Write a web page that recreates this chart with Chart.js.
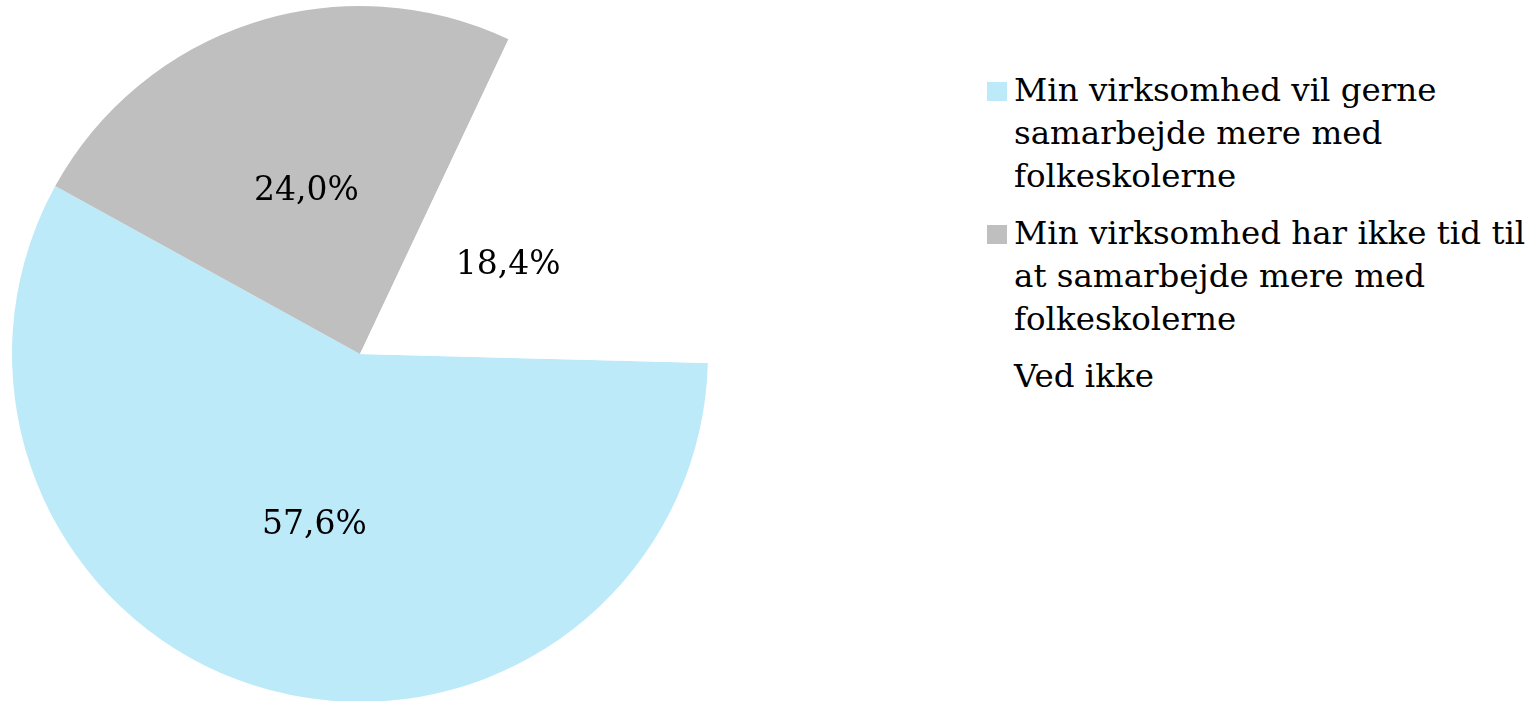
<!DOCTYPE html>
<html>
<head>
<meta charset="utf-8">
<script src="https://cdn.jsdelivr.net/npm/chart.js@4/dist/chart.umd.min.js"></script>
<style>
    html, body { margin: 0; padding: 0; background: #fff; overflow: hidden; }
    #wrap { position: relative; width: 1539px; height: 701px; }
    #pieBox { position: absolute; left: 0; top: 0; width: 720px; height: 702px; }
    #legend { position: absolute; left: 987px; top: 69px; font-family: "DejaVu Serif", serif; color: #000; }
    .item { display: flex; align-items: flex-start; margin-bottom: 14px; }
    .box { width: 20px; height: 19px; margin-top: 13px; margin-right: 7px; flex: none; }
    .txt { font-size: 32.5px; line-height: 43px; white-space: nowrap; }
</style>
</head>
<body>
<div id="wrap">
    <div id="pieBox"><canvas id="pie"></canvas></div>
    <div id="legend"></div>
</div>
<script>
const categories = [
    ['Min virksomhed vil gerne', 'samarbejde mere med', 'folkeskolerne'],
    ['Min virksomhed har ikke tid til', 'at samarbejde mere med', 'folkeskolerne'],
    ['Ved ikke']
];
const shares = [57.6, 24.0, 18.4];
const colors = ['#bdeaf9', '#bfbfbf', '#ffffff'];

const LABEL_FONT = '33px "DejaVu Serif"';

function fmtPct(v) {
    return v.toFixed(1).replace('.', ',') + '%';
}

// percentage labels in the middle of each slice
const sliceLabels = {
    id: 'sliceLabels',
    afterDatasetsDraw(chart) {
        const ctx = chart.ctx;
        const meta = chart.getDatasetMeta(0);
        ctx.save();
        ctx.font = LABEL_FONT;
        ctx.fillStyle = '#000';
        ctx.textAlign = 'center';
        ctx.textBaseline = 'middle';
        meta.data.forEach((arc, i) => {
            const p = arc.tooltipPosition();
            ctx.fillText(fmtPct(shares[i]), p.x, p.y + 3);
        });
        ctx.restore();
    }
};

function buildLegend() {
    const legend = document.getElementById('legend');
    legend.innerHTML = '';
    categories.forEach((lines, i) => {
        const item = document.createElement('div');
        item.className = 'item';
        const box = document.createElement('div');
        box.className = 'box';
        box.style.background = colors[i];
        const txt = document.createElement('div');
        txt.className = 'txt';
        txt.innerHTML = lines.join('<br>');
        item.appendChild(box);
        item.appendChild(txt);
        legend.appendChild(item);
    });
}

const ctx = document.getElementById('pie').getContext('2d');
const pieChart = new Chart(ctx, {
    type: 'pie',
    data: {
        labels: categories.map(l => l.join(' ')),
        datasets: [{
            data: shares,
            backgroundColor: colors,
            borderWidth: 0
        }]
    },
    options: {
        responsive: true,
        maintainAspectRatio: false,
        animation: false,
        rotation: 91.5,
        layout: { padding: { top: 6, left: 12, right: 12, bottom: 0 } },
        plugins: {
            legend: { display: false },
            tooltip: { enabled: false }
        }
    },
    plugins: [sliceLabels]
});

buildLegend();
</script>
</body>
</html>
